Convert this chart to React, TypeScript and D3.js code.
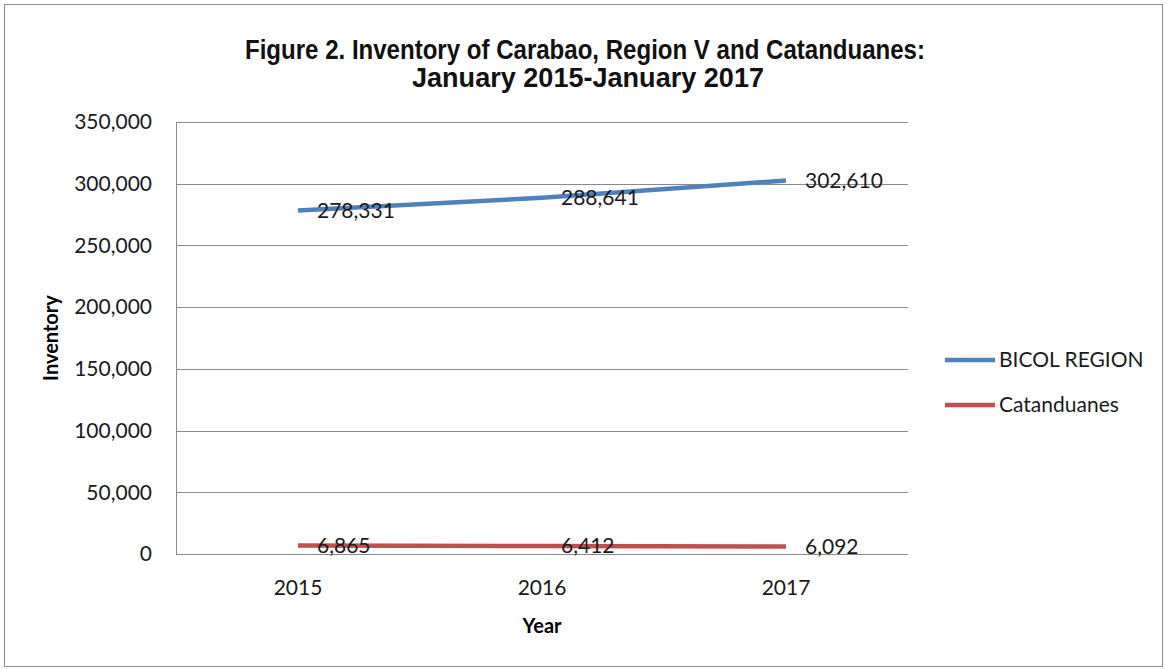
import React from "react";
import * as d3 from "d3";

const years = ["2015", "2016", "2017"];
const bicol = [278331, 288641, 302610];
const catanduanes = [6865, 6412, 6092];
const yTicks = [0, 50000, 100000, 150000, 200000, 250000, 300000, 350000];
const seriesNames = ["BICOL REGION", "Catanduanes"];
const seriesColors = ["#4F81BD", "#C0504D"];
const titleLines = ["Figure 2. Inventory of Carabao, Region V and Catanduanes:", "January 2015-January 2017"];

const W = 1167;
const H = 669;
const plot = { left: 176, right: 908, top: 122, bottom: 554 };
const bodyFont = "Lato, 'Open Sans', sans-serif";

export default function App() {
  const x = d3.scaleBand<string>().domain(years).range([plot.left, plot.right]).padding(0);
  const y = d3.scaleLinear().domain([0, 350000]).range([plot.bottom, plot.top]);
  const fmt = d3.format(",");
  const cx = (d: string) => (x(d) as number) + x.bandwidth() / 2;
  const line = d3
    .line<number>()
    .x((_, i) => cx(years[i]))
    .y((v) => y(v));
  const series = [bicol, catanduanes];

  return (
    <svg
      width={W}
      height={H}
      style={{ position: "absolute", left: 0, top: 0, background: "#fff" }}
    >
      <rect x={0} y={0} width={W} height={H} fill="#fff" />
      <rect x={4.5} y={4.5} width={1158} height={662} fill="none" stroke="#8c8c8c" strokeWidth={1} />

      {/* title */}
      <text
        x={585}
        y={59}
        textAnchor="middle"
        fontFamily="'Liberation Sans', Arial, sans-serif"
        fontWeight="bold"
        fontSize={27}
        fill="#111"
        textLength={680}
        lengthAdjust="spacingAndGlyphs"
      >
        {titleLines[0]}
      </text>
      <text
        x={588}
        y={87}
        textAnchor="middle"
        fontFamily="'Liberation Sans', Arial, sans-serif"
        fontWeight="bold"
        fontSize={27}
        fill="#111"
        textLength={352}
        lengthAdjust="spacingAndGlyphs"
      >
        {titleLines[1]}
      </text>

      {/* gridlines */}
      {yTicks.map((t) => (
        <line
          key={t}
          x1={plot.left}
          x2={plot.right}
          y1={Math.round(y(t)) + 0.5}
          y2={Math.round(y(t)) + 0.5}
          stroke="#8a8a8a"
          strokeWidth={1}
        />
      ))}
      <line
        x1={plot.left + 0.5}
        x2={plot.left + 0.5}
        y1={plot.top}
        y2={plot.bottom + 0.5}
        stroke="#8a8a8a"
        strokeWidth={1}
      />

      {/* y tick labels */}
      {yTicks.map((t) => (
        <text
          key={t}
          x={plot.left - 24}
          y={y(t)}
          dy="0.35em"
          textAnchor="end"
          fontFamily={bodyFont}
          fontSize={21}
          fill="#1a1a1a"
        >
          {fmt(t)}
        </text>
      ))}

      {/* x tick labels */}
      {years.map((yr) => (
        <text
          key={yr}
          x={cx(yr)}
          y={588}
          dy="0.35em"
          textAnchor="middle"
          fontFamily={bodyFont}
          fontSize={21}
          fill="#1a1a1a"
        >
          {yr}
        </text>
      ))}

      {/* axis titles */}
      <text
        transform={`translate(51,${(plot.top + plot.bottom) / 2}) rotate(-90)`}
        textAnchor="middle"
        dy="0.35em"
        fontFamily={bodyFont}
        fontWeight="bold"
        fontSize={20}
        fill="#000"
      >
        Inventory
      </text>
      <text
        x={(plot.left + plot.right) / 2}
        y={626}
        dy="0.35em"
        textAnchor="middle"
        fontFamily={bodyFont}
        fontWeight="bold"
        fontSize={20}
        fill="#000"
      >
        Year
      </text>

      {/* lines */}
      {series.map((s, i) => (
        <path
          key={i}
          d={line(s) as string}
          fill="none"
          stroke={seriesColors[i]}
          strokeWidth={4.5}
        />
      ))}

      {/* data labels */}
      {series.map((s, i) =>
        s.map((v, j) => (
          <text
            key={`${i}-${j}`}
            x={cx(years[j]) + 19}
            y={y(v)}
            dy="0.35em"
            textAnchor="start"
            fontFamily={bodyFont}
            fontSize={21}
            fill="#1a1a1a"
          >
            {fmt(v)}
          </text>
        ))
      )}

      {/* legend */}
      {seriesNames.map((n, i) => (
        <g key={n} transform={`translate(945,${360 + i * 45})`}>
          <line x1={0} x2={50} y1={0} y2={0} stroke={seriesColors[i]} strokeWidth={4.5} />
          <text x={54} y={0} dy="0.35em" fontFamily={bodyFont} fontSize={21} fill="#1a1a1a">
            {n}
          </text>
        </g>
      ))}
    </svg>
  );
}
